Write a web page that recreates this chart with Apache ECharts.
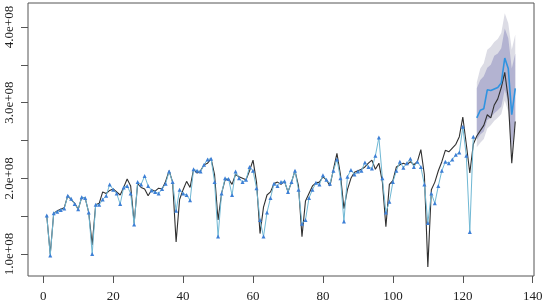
<!DOCTYPE html>
<html><head><meta charset="utf-8">
<script src="https://cdn.jsdelivr.net/npm/echarts@6/dist/echarts.min.js"></script>
<style>html,body{margin:0;padding:0;background:#fff}#c{width:543px;height:306px}</style>
</head><body><div id="c"></div>
<script>
const UNIT = 1e8;
// actual series, x = 1..135 (units of 1e8)
const actual = [1.51,1.00,1.54,1.57,1.59,1.61,1.77,1.72,1.67,1.59,1.75,1.74,1.55,1.12,1.65,1.67,1.82,1.80,1.84,1.86,
1.82,1.78,1.88,1.99,1.90,1.41,1.93,1.88,1.86,1.77,1.85,1.83,1.87,1.86,1.96,2.10,1.95,1.16,1.72,1.85,
1.96,1.88,2.12,2.07,2.10,2.18,2.20,2.26,2.05,1.45,1.80,1.98,1.99,1.92,2.05,2.02,2.00,1.98,2.10,2.24,
1.95,1.27,1.62,1.78,1.82,1.93,1.95,1.92,1.96,1.82,1.95,2.10,1.90,1.23,1.70,1.80,1.90,1.94,1.95,2.02,
1.98,1.90,2.12,2.33,2.05,1.60,1.85,2.00,2.08,2.10,2.12,2.15,2.20,2.24,2.12,2.20,1.95,1.36,1.92,1.97,
2.15,2.18,2.20,2.18,2.22,2.18,2.22,2.38,2.05,0.83,1.85,1.95,2.10,2.22,2.37,2.35,2.40,2.45,2.55,2.81,
2.45,2.07,2.45,2.56,2.63,2.70,2.84,2.80,2.97,3.05,3.20,3.40,3.05,2.20,2.75];
// fitted series, x = 1..123
const fitted = [1.51,0.98,1.54,1.56,1.58,1.60,1.77,1.73,1.66,1.59,1.75,1.74,1.55,1.00,1.65,1.65,1.72,1.77,1.92,1.85,
1.80,1.66,1.88,1.90,1.80,1.39,1.95,1.92,2.03,1.90,1.84,1.82,1.80,1.86,1.93,2.09,1.95,1.57,1.85,1.80,
1.78,1.71,2.12,2.10,2.09,2.18,2.25,2.26,1.95,1.23,1.80,2.00,1.99,1.78,2.09,2.00,1.95,1.98,2.15,2.10,
1.87,1.45,1.23,1.55,1.74,1.93,1.90,1.95,1.96,1.82,1.95,2.10,1.85,1.40,1.45,1.74,1.85,1.94,1.92,2.04,
1.98,1.93,2.10,2.25,2.00,1.43,2.02,2.11,2.05,2.09,2.10,2.21,2.15,2.13,2.30,2.54,2.00,1.55,1.69,1.95,
2.10,2.22,2.14,2.20,2.26,2.15,2.22,2.15,1.92,1.41,1.80,1.67,1.90,2.10,2.22,2.20,2.25,2.31,2.34,2.68,
2.30,1.29,2.55];
// forecast, x = 124..135
const fcX = [124,125,126,127,128,129,130,131,132,133,134,135];
const forecast = [2.80,2.90,2.92,3.17,3.16,3.18,3.20,3.26,3.59,3.45,2.84,3.19];
const hi95 = [3.27,3.45,3.52,3.70,3.74,3.80,3.84,3.92,4.18,4.05,3.70,3.90];
const hi80 = [3.19,3.30,3.35,3.46,3.50,3.62,3.65,3.72,3.98,3.85,3.45,3.65];
const lo80 = [2.51,2.58,2.62,2.77,2.80,2.86,2.90,2.95,3.17,3.00,2.41,2.75];
const lo95 = [2.41,2.47,2.52,2.66,2.70,2.76,2.80,2.85,3.03,2.88,2.28,2.60];
const xTicks = [0,20,40,60,80,100,120,140];
const yTicks = [1.0,1.5,2.0,2.5,3.0,3.5,4.0];
const yLabelTicks = [1.0,2.0,3.0,4.0];

const chart = echarts.init(document.getElementById('c'), null, {renderer:'canvas'});
const seq = (arr, x0) => arr.map((v,i)=>[x0+i, v*UNIT]);
const fc = (arr) => arr.map((v,i)=>[fcX[i], v*UNIT]);
const font = {fontFamily:'Liberation Serif', fontSize:13, color:'#222'};
function band(lo, hi, color, z){
  return {type:'custom', silent:true, z:z, clip:true,
    data:[[fcX[0], lo[0]*UNIT]], encode:{x:0,y:1},
    renderItem:function(params, api){
      const pts=[];
      for(let i=0;i<fcX.length;i++) pts.push(api.coord([fcX[i], hi[i]*UNIT]));
      for(let i=fcX.length-1;i>=0;i--) pts.push(api.coord([fcX[i], lo[i]*UNIT]));
      return {type:'polygon', shape:{points:pts}, style:{fill:color}};
    }};
}
chart.setOption({
  animation:false,
  backgroundColor:'#fff',
  grid:{left:28,right:9,top:3,bottom:30,show:true,borderColor:'#555',borderWidth:1,backgroundColor:'transparent',outerBoundsMode:'none'},
  xAxis:{type:'value',min:-4.36,max:140.36,
    axisLine:{show:false,onZero:false},splitLine:{show:false},
    axisTick:{show:true,length:7,lineStyle:{color:'#555'},customValues:xTicks},
    axisLabel:Object.assign({margin:14,customValues:xTicks,formatter:v=>String(v)},font)},
  yAxis:{type:'value',min:0.7093*UNIT,max:4.317*UNIT,
    axisLine:{show:false,onZero:false},splitLine:{show:false},
    axisTick:{show:true,length:7,lineStyle:{color:'#555'},customValues:yTicks.map(v=>v*UNIT)},
    axisLabel:Object.assign({margin:12,rotate:90,customValues:yLabelTicks.map(v=>v*UNIT),
      formatter:v=>(v/UNIT).toFixed(1)+'e+08'},font)},
  series:[
    band(lo95, hi95, '#dcdce5', 1),
    band(lo80, hi80, '#b3b3d1', 2),
    {type:'line',data:seq(actual,1),symbol:'none',lineStyle:{color:'#303030',width:1.1},z:3},
    {type:'line',data:seq(fitted,1),symbol:'triangle',symbolSize:4,showSymbol:true,
      lineStyle:{color:'#70b8d4',width:1},itemStyle:{color:'#3d7fd6'},z:4},
    {type:'line',data:fc(forecast),symbol:'none',lineStyle:{color:'#2f93e0',width:1.6},z:5}
  ]
});
</script></body></html>
